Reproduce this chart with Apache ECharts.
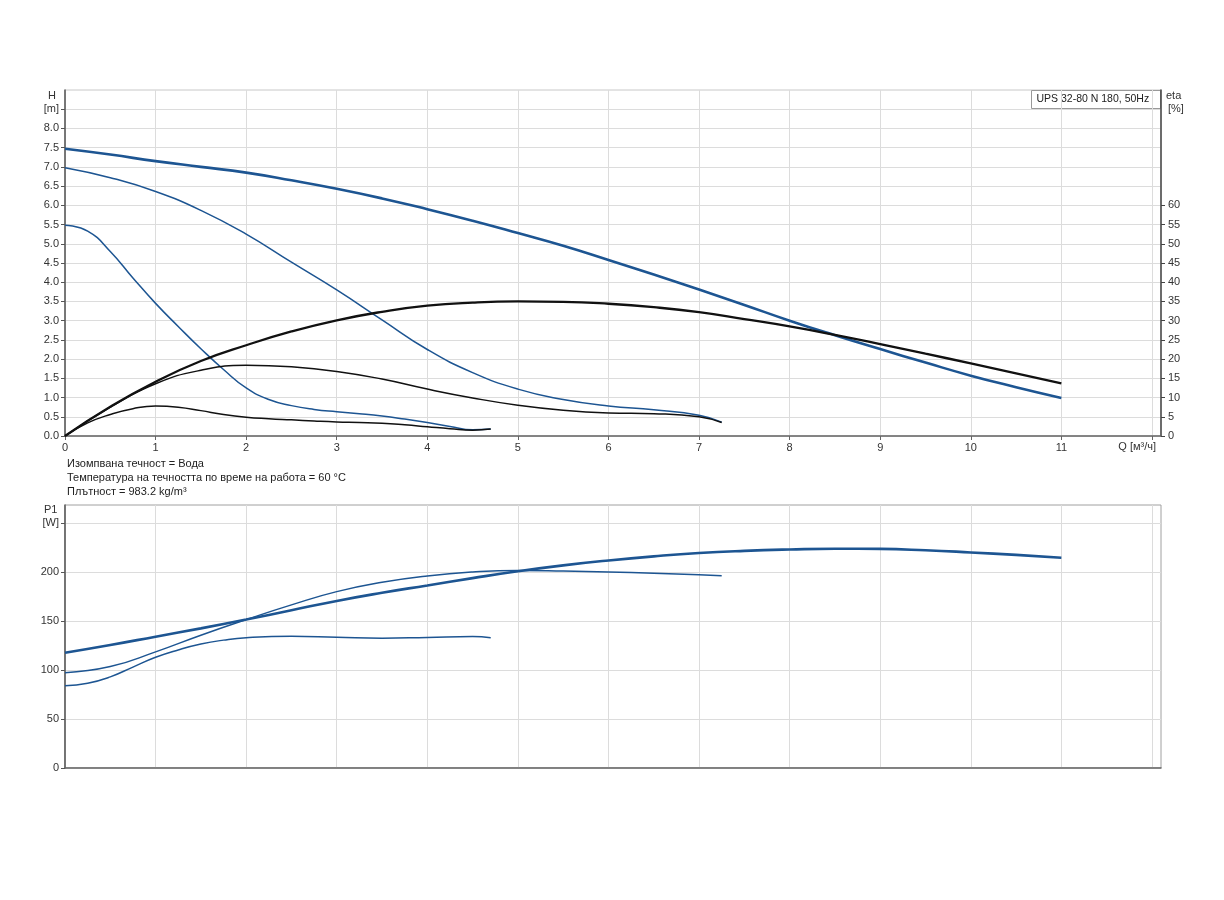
<!DOCTYPE html>
<html><head><meta charset="utf-8">
<script src="https://cdn.jsdelivr.net/npm/echarts@6/dist/echarts.min.js"></script>
<style>html,body{margin:0;padding:0;background:#fff}#c{width:1224px;height:900px}</style>
</head><body><div id="c"></div>
<script>
// ---- Data (Q in m³/h) ----
const Q3   = [0,0.5,1,1.5,2,2.5,3,3.5,4,4.5,5,5.5,6,6.5,7,7.5,8,8.5,9,9.5,10,10.5,11];
const H3   = [7.47,7.32,7.15,7.0,6.85,6.65,6.43,6.18,5.9,5.6,5.28,4.95,4.58,4.2,3.81,3.41,3.0,2.62,2.26,1.91,1.57,1.27,0.99];
const ETA3 = [0,7.6,14.1,19.5,23.6,27.2,30.1,32.3,33.9,34.7,35.0,34.9,34.4,33.5,32.2,30.4,28.5,26.3,23.9,21.4,18.9,16.3,13.7];

const Q2   = [0,0.5,1,1.5,2,2.5,3,3.5,4,4.5,5,5.5,6,6.5,7,7.25];
const H2   = [6.98,6.72,6.36,5.87,5.25,4.52,3.8,3.02,2.25,1.65,1.22,0.95,0.78,0.68,0.54,0.36];
const ETA2 = [0,7.5,13.6,17.1,18.4,18.0,16.8,14.8,12.2,9.9,8.0,6.7,6.0,5.8,5.0,3.5];

const Q1   = [0,0.25,0.5,0.75,1,1.25,1.5,1.75,2,2.25,2.5,2.75,3,3.25,3.5,3.75,4,4.25,4.5,4.7];
const H1   = [5.48,5.33,4.80,4.11,3.45,2.85,2.27,1.73,1.25,0.95,0.79,0.69,0.63,0.58,0.52,0.44,0.35,0.25,0.16,0.18];
const ETA1 = [0,3.4,5.6,7.1,7.8,7.5,6.6,5.6,4.9,4.5,4.2,3.9,3.65,3.5,3.3,2.9,2.4,1.9,1.5,1.8];

const QP3 = [0,0.5,1,1.5,2,2.5,3,3.5,4,4.5,5,5.5,6,6.5,7,7.5,8,8.5,9,9.5,10,10.5,11];
const P3  = [117.6,125.5,134,142.5,151.5,161,170.5,178.8,186.3,193.8,200.8,206.8,211.8,216,219.4,221.6,223,223.8,223.6,222.2,220,217.5,214.6];
const QP2 = [0,0.5,1,1.5,2,2.5,3,3.5,4,4.5,5,5.5,6,6.5,7,7.25];
const P2  = [97.3,103.5,118.5,135.5,151.4,166.5,180,189.5,196,200,201.6,201,200,198.8,197.3,196.3];
const QP1 = [0,0.25,0.5,0.75,1,1.25,1.5,1.75,2,2.5,3,3.5,4,4.5,4.7];
const P1  = [84,86.5,93,103,113,120.5,126.5,130.5,133,134.5,133.5,132.5,133.3,134.2,133];

const X_TICKS = [0,1,2,3,4,5,6,7,8,9,10,11,12];
const X_LABELS = [0,1,2,3,4,5,6,7,8,9,10,11];
const H_TICKS = [0,0.5,1,1.5,2,2.5,3,3.5,4,4.5,5,5.5,6,6.5,7,7.5,8,8.5];
const ETA_TICKS = [0,5,10,15,20,25,30,35,40,45,50,55,60];
const P_TICKS = [0,50,100,150,200,250];

const zip = (a,b) => a.map((v,i)=>[v,b[i]]);
const BLUE = '#1d5592', BLACK = '#111111';
const FONT = 'Liberation Sans, Arial, sans-serif';
const lbl = {color:'#333', fontSize:11, fontFamily:FONT};

const chart = echarts.init(document.getElementById('c'));
function line(name,data,color,w,xi,yi){
  return {name, type:'line', data, xAxisIndex:xi, yAxisIndex:yi, smooth:0.5, showSymbol:false,
    lineStyle:{color, width:w}, itemStyle:{color}, z: w>2?3:2, animation:false};
}
const axisX = (gi, showLabels) => ({
  type:'value', gridIndex:gi, min:0, max:12.1, interval:1,
  axisLine:{show:true, onZero:false, lineStyle:{color:'#666', width:1.5}},
  axisTick:{show:showLabels, length:4, customValues:X_TICKS, lineStyle:{color:'#666'}},
  axisLabel:{show:showLabels, customValues:X_LABELS, margin:6, ...lbl},
  splitLine:{show:true, lineStyle:{color:'#dcdcdc', width:1}}
});
chart.setOption({
  animation:false,
  grid:[
    {left:65, top:90, width:1096, height:346, show:true, borderColor:'#c8c8c8', borderWidth:1},
    {left:65, top:505, width:1096, height:263, show:true, borderColor:'#a0a0a0', borderWidth:1}
  ],
  xAxis:[axisX(0,true), axisX(1,false)],
  yAxis:[
    {type:'value', gridIndex:0, min:0, max:9, interval:0.5, position:'left',
     axisLine:{show:true, lineStyle:{color:'#555', width:1.5}},
     axisTick:{show:true, length:4, customValues:H_TICKS, lineStyle:{color:'#555'}},
     axisLabel:{customValues:H_TICKS, margin:6, ...lbl, formatter:v=> v===8.5?'[m]':v.toFixed(1)},
     splitLine:{show:true, lineStyle:{color:'#dcdcdc'}}},
    {type:'value', gridIndex:0, min:0, max:90, interval:5, position:'right',
     axisLine:{show:true, lineStyle:{color:'#444', width:1.5}},
     axisTick:{show:true, length:4, customValues:ETA_TICKS, lineStyle:{color:'#444'}},
     axisLabel:{customValues:ETA_TICKS.concat([85]), margin:7, ...lbl, formatter:v=> v===85?'[%]':String(v)},
     splitLine:{show:false}},
    {type:'value', gridIndex:1, min:0, max:268.4, interval:50, position:'left',
     axisLine:{show:true, lineStyle:{color:'#555', width:1.5}},
     axisTick:{show:true, length:4, customValues:P_TICKS, lineStyle:{color:'#555'}},
     axisLabel:{customValues:P_TICKS, margin:6, ...lbl, formatter:v=> v===250?'[W]':String(v)},
     splitLine:{show:true, lineStyle:{color:'#dcdcdc'}}}
  ],
  series:[
    line('H3', zip(Q3,H3), BLUE, 2.6, 0, 0),
    line('H2', zip(Q2,H2), BLUE, 1.5, 0, 0),
    line('H1', zip(Q1,H1), BLUE, 1.5, 0, 0),
    line('eta3', zip(Q3,ETA3), BLACK, 2.3, 0, 1),
    line('eta2', zip(Q2,ETA2), BLACK, 1.5, 0, 1),
    line('eta1', zip(Q1,ETA1), BLACK, 1.5, 0, 1),
    line('P3', zip(QP3,P3), BLUE, 2.6, 1, 2),
    line('P2', zip(QP2,P2), BLUE, 1.5, 1, 2),
    line('P1', zip(QP1,P1), BLUE, 1.5, 1, 2)
  ],
  graphic:[
    {type:'text', left:48, top:90, style:{text:'H', fill:'#333', font:'11px '+FONT}},
    {type:'text', left:1166, top:90, style:{text:'eta', fill:'#333', font:'11px '+FONT}},
    {type:'text', left:44, top:504, style:{text:'P1', fill:'#333', font:'11px '+FONT}},
    {type:'text', right:1224-1156, top:441, style:{text:'Q [м³/ч]', fill:'#333', font:'11px '+FONT}},
    {type:'text', left:67, top:458, style:{text:'Изомпвана течност = Вода', fill:'#222', font:'11px '+FONT}},
    {type:'text', left:67, top:472, style:{text:'Температура на течността по време на работа = 60 °C', fill:'#222', font:'11px '+FONT}},
    {type:'text', left:67, top:486, style:{text:'Плътност = 983.2 kg/m³', fill:'#222', font:'11px '+FONT}},
    {type:'group', left:1031, top:90, z:10, children:[
      {type:'rect', shape:{x:0,y:0,width:129,height:18}, style:{fill:'#fff', stroke:'#999', lineWidth:1}},
      {type:'text', x:5, y:3.5, style:{text:'UPS 32-80 N 180, 50Hz', fill:'#222', font:'10.5px '+FONT}}
    ]}
  ]
});
</script></body></html>
